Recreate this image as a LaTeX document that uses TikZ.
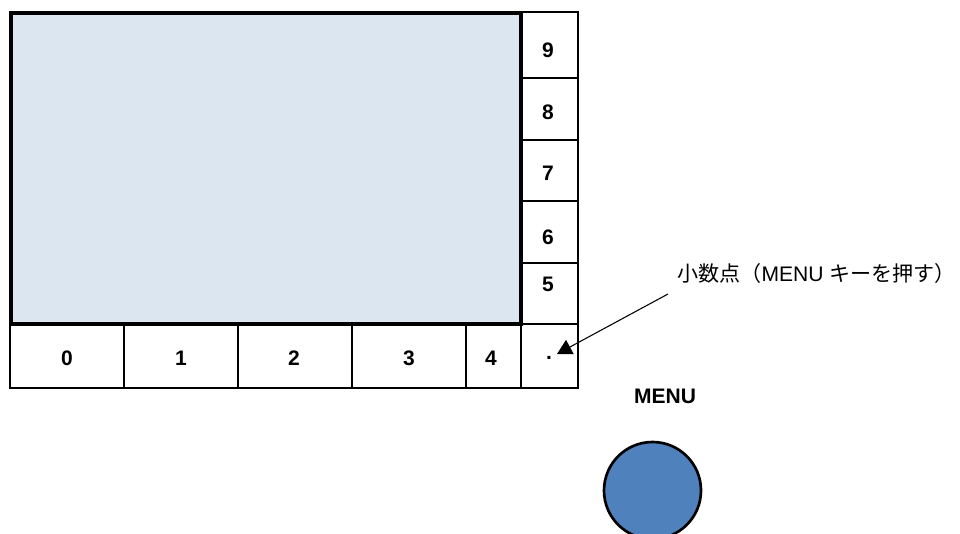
\documentclass[tikz,border=0pt]{standalone}
\usepackage{fontspec}
\setmainfont{Liberation Sans}
\newfontfamily\cjk{Noto Sans CJK JP}
\usetikzlibrary{arrows.meta}
\definecolor{screenfill}{HTML}{DCE6F1}
\definecolor{btnfill}{HTML}{4F81BD}
\tikzset{
  keybox/.style={draw=black, line width=1.5pt},
  keylabel/.style={font=\fontsize{15.75}{18}\selectfont\bfseries, inner sep=0pt},
  note/.style={font=\fontsize{15.8}{18}\selectfont, inner sep=0pt, anchor=west},
  screen/.style={draw=black, line width=3pt, fill=screenfill},
  pointer/.style={draw=black, line width=0.8pt, -{Triangle[length=11pt,width=12pt]}},
  button/.style={draw=black, line width=2pt, fill=btnfill},
}
\begin{document}
\begin{tikzpicture}[x=0.75pt, y=-0.75pt]
\useasboundingbox (0,0) rectangle (960,534);
% right column keys
\draw[keybox] (521,12) rectangle (578,78);
\draw[keybox] (521,78) rectangle (578,140);
\draw[keybox] (521,140) rectangle (578,201);
\draw[keybox] (521,201) rectangle (578,263);
\draw[keybox] (521,263) rectangle (578,324);
\draw[keybox] (521,324) rectangle (578,388);
% bottom row keys
\draw[keybox] (10,324) rectangle (124,388);
\draw[keybox] (124,324) rectangle (238,388);
\draw[keybox] (238,324) rectangle (352,388);
\draw[keybox] (352,324) rectangle (466,388);
\draw[keybox] (466,324) rectangle (521,388);
% screen
\draw[screen] (11,13.5) rectangle (521,324.5);
% labels
\node[keylabel] (k9) at (548,50) {9};
\node[keylabel] (k8) at (548,112) {8};
\node[keylabel] (k7) at (548,173) {7};
\node[keylabel] (k6) at (548,237) {6};
\node[keylabel] (k5) at (548,284) {5};
\node[keylabel] (k0) at (67,358) {0};
\node[keylabel] (k1) at (181,358) {1};
\node[keylabel] (k2) at (294,358) {2};
\node[keylabel] (k3) at (409,358) {3};
\node[keylabel] (k4) at (491,358) {4};
\node[keylabel, anchor=base] (kdot) at (549,360) {.};
\coordinate (tip) at (557,354);
% note
\node[note] (note) at (677,273) {\cjk 小数点（\normalfont MENU \cjk キーを押す）};
\coordinate (start) at (668,294);
\draw[pointer] (start) -- (tip);
% MENU button
\node[keylabel] (menulbl) at (665,396) {MENU};
\begin{scope}
\clip (0,0) rectangle (960,534);
\draw[button] (652.5,490.5) circle (48.5);
\end{scope}
\end{tikzpicture}
\end{document}
